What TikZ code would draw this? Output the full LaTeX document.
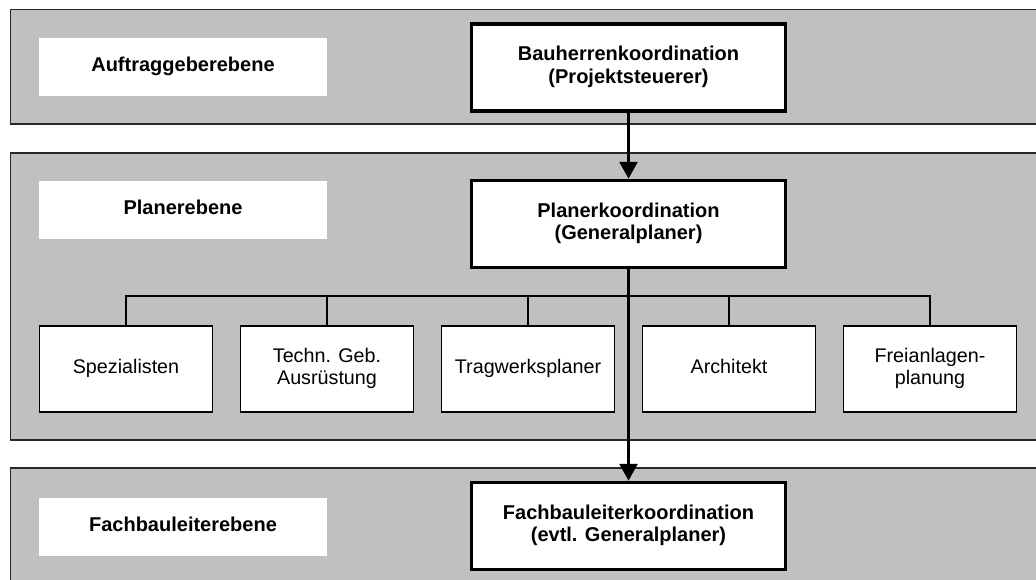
\documentclass[tikz,border=0pt]{standalone}
\usepackage{fontspec}
\setmainfont{Liberation Sans}
\usetikzlibrary{arrows.meta}
\definecolor{bandgray}{RGB}{192,192,192}
\definecolor{bandline}{RGB}{40,40,40}
\begin{document}
\begin{tikzpicture}[x=0.75pt,y=-0.75pt,
  band/.style={fill=bandgray,draw=bandline,line width=1pt},
  lvl/.style={fill=white,minimum width=216pt,minimum height=43.5pt,inner sep=0pt,
    font=\fontsize{15}{17}\selectfont\bfseries},
  mainbox/.style={fill=white,draw=black,line width=2.6pt,minimum width=235.5pt,
    minimum height=65.5pt,inner sep=0pt,align=center,font=\fontsize{15}{17}\selectfont\bfseries},
  subbox/.style={fill=white,draw=black,line width=1pt,minimum width=129.5pt,
    minimum height=64.5pt,inner sep=0pt,align=center,font=\fontsize{14.8}{17}\selectfont},
  conn/.style={line width=1.7pt},
  arr/.style={conn,-{Triangle[width=13.5pt,length=12.5pt]}}]
\useasboundingbox (0,0) rectangle (1036,580);
\clip (0,0) rectangle (1036,580);
% bands
\path[band] (10.7,9.5) rectangle (1045,124);
\path[band] (10.7,153) rectangle (1045,440);
\path[band] (10.7,468) rectangle (1045,600);
% level labels
\node[lvl] (l1) at (183,67) {\strut Auftraggeberebene};
\node[lvl] (l2) at (183,210) {\strut Planerebene};
\node[lvl] (l3) at (183,527) {\strut Fachbauleiterebene};
% main boxes
\node[mainbox] (bh) at (628.5,67.5) {\strut Bauherrenkoordination\\\strut(Projektsteuerer)};
\node[mainbox] (pk) at (628.5,224) {\strut Planerkoordination\\\strut(Generalplaner)};
\node[mainbox] (fb) at (628.5,526) {\strut Fachbauleiterkoordination\\\strut(evtl. Generalplaner)};
% planners
\node[subbox] (s1) at (126,369) {\strut Spezialisten};
\node[subbox] (s2) at (327,369) {\strut Techn. Geb.\\\strut Ausrüstung};
\node[subbox] (s3) at (528,369) {\strut Tragwerksplaner};
\node[subbox] (s4) at (729,369) {\strut Architekt};
\node[subbox] (s5) at (930,369) {\strut Freianlagen-\\\strut planung};
\coordinate (bus) at (628.5,296);
% connectors
\draw[conn] (s1.north) |- (bus) -| (s5.north);
\draw[conn] (s2.north) -- (s2.north |- bus);
\draw[conn] (s3.north) -- (s3.north |- bus);
\draw[conn] (s4.north) -- (s4.north |- bus);
\draw[arr] (bh) -- (pk);
\draw[arr] (pk) -- (fb);
\end{tikzpicture}
\end{document}
